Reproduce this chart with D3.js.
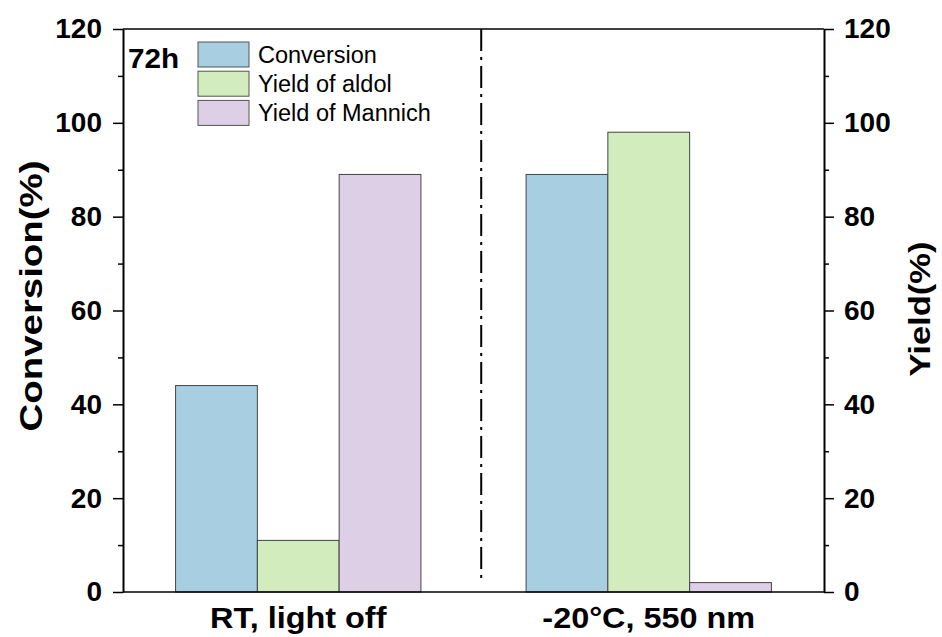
<!DOCTYPE html>
<html>
<head>
<meta charset="utf-8">
<script src="https://cdn.jsdelivr.net/npm/d3@7/dist/d3.min.js"></script>
<style>
  html, body { margin: 0; padding: 0; background: #fff; }
  svg { display: block; font-family: Arial, "Liberation Sans", sans-serif; }
</style>
</head>
<body>
<svg id="chart" width="942" height="637"></svg>
<script>
// Reaction conditions on the x axis
const categories = ["RT, light off", "-20\u00B0C, 550 nm"];
// Series shown in each group
const series = ["Conversion", "Yield of aldol", "Yield of Mannich"];
const conversion = [44, 89];
const yieldAldol = [11, 98];
const yieldMannich = [89, 2];
const yTicks = [0, 20, 40, 60, 80, 100, 120];
const yMinorTicks = [10, 30, 50, 70, 90, 110];
const colors = ["#a8cee2", "#d3ecbd", "#ddd0e6"];

const values = [conversion, yieldAldol, yieldMannich];

const svg = d3.select("#chart");
const margin = { left: 123, right: 118, top: 29, bottom: 45 };
const W = 942, H = 637;
const x0 = margin.left, x1 = W - margin.right;
const yTop = margin.top, yBot = H - margin.bottom;

const x = d3.scaleBand().domain(categories).range([x0, x1])
  .paddingInner(0.3).paddingOuter(0.15);
const xs = d3.scaleBand().domain(series).range([0, x.bandwidth()]).padding(0);
const y = d3.scaleLinear().domain([0, 120]).range([yBot, yTop]);

// Bars
const rows = [];
categories.forEach((c, ci) => series.forEach((s, si) => rows.push({ c, s, si, v: values[si][ci] })));
svg.append("g").selectAll("rect").data(rows).join("rect")
  .attr("x", d => x(d.c) + xs(d.s))
  .attr("y", d => y(d.v))
  .attr("width", xs.bandwidth())
  .attr("height", d => y(0) - y(d.v))
  .attr("fill", d => colors[d.si])
  .attr("stroke", "#444")
  .attr("stroke-width", 1);

// Divider between the two conditions
const dividerFrac = 0.511;
const xd = x0 + dividerFrac * (x1 - x0);
svg.append("line")
  .attr("x1", xd).attr("x2", xd)
  .attr("y1", yTop).attr("y2", y(2.5))
  .attr("stroke", "#000").attr("stroke-width", 2)
  .attr("stroke-dasharray", "22 6 3 6");

// Frame: top and bottom lines
svg.append("line").attr("x1", x0).attr("x2", x1).attr("y1", yTop).attr("y2", yTop)
  .attr("stroke", "#000").attr("stroke-width", 1.5);
svg.append("line").attr("x1", x0).attr("x2", x1).attr("y1", yBot).attr("y2", yBot)
  .attr("stroke", "#000").attr("stroke-width", 1.5);

function styleAxis(g) {
  g.select(".domain").attr("stroke", "#000").attr("stroke-width", 2);
  g.selectAll(".tick line").attr("stroke", "#000").attr("stroke-width", 1.5);
  g.selectAll(".tick text").attr("fill", "#000")
    .style("font-size", "28px").style("font-weight", "bold");
}

// Left axis
const left = svg.append("g").attr("transform", `translate(${x0},0)`)
  .call(d3.axisLeft(y).tickValues(yTicks).tickSize(10).tickPadding(11).tickSizeOuter(0));
styleAxis(left);
svg.append("g").attr("transform", `translate(${x0},0)`)
  .call(d3.axisLeft(y).tickValues(yMinorTicks).tickSize(5).tickFormat("").tickSizeOuter(0))
  .call(g => { g.select(".domain").remove(); g.selectAll("line").attr("stroke", "#000").attr("stroke-width", 1.5); });

// Right axis
const right = svg.append("g").attr("transform", `translate(${x1},0)`)
  .call(d3.axisRight(y).tickValues(yTicks).tickSize(10).tickPadding(10).tickSizeOuter(0));
styleAxis(right);
svg.append("g").attr("transform", `translate(${x1},0)`)
  .call(d3.axisRight(y).tickValues(yMinorTicks).tickSize(5).tickFormat("").tickSizeOuter(0))
  .call(g => { g.select(".domain").remove(); g.selectAll("line").attr("stroke", "#000").attr("stroke-width", 1.5); });

// Category labels (slightly widened bold type)
svg.append("g").selectAll("text").data(categories).join("text")
  .attr("transform", d => `translate(${x(d) + x.bandwidth() / 2},628) scale(1.08,1)`)
  .attr("text-anchor", "middle")
  .style("font-size", "30px").style("font-weight", "bold")
  .text(d => d);

// Axis titles
svg.append("text")
  .attr("transform", `translate(42,296) rotate(-90) scale(1.2,1)`)
  .attr("text-anchor", "middle")
  .style("font-size", "32px").style("font-weight", "bold")
  .text("Conversion(%)");
svg.append("text")
  .attr("transform", `translate(930,309) rotate(-90) scale(1.15,1)`)
  .attr("text-anchor", "middle")
  .style("font-size", "30px").style("font-weight", "bold")
  .text("Yield(%)");

// Time label
svg.append("text").attr("transform", "translate(128,68) scale(1.1,1)")
  .style("font-size", "27px").style("font-weight", "bold").text("72h");

// Legend
const legend = svg.append("g").attr("transform", "translate(198,42)");
const lg = legend.selectAll("g").data(series).join("g")
  .attr("transform", (d, i) => `translate(0,${i * 29.2})`);
lg.append("rect").attr("width", 51).attr("height", 25)
  .attr("fill", (d, i) => colors[i]).attr("stroke", "#555").attr("stroke-width", 1);
lg.append("text").attr("x", 60).attr("y", 21)
  .style("font-size", "23.5px").text(d => d);
</script>
</body>
</html>
